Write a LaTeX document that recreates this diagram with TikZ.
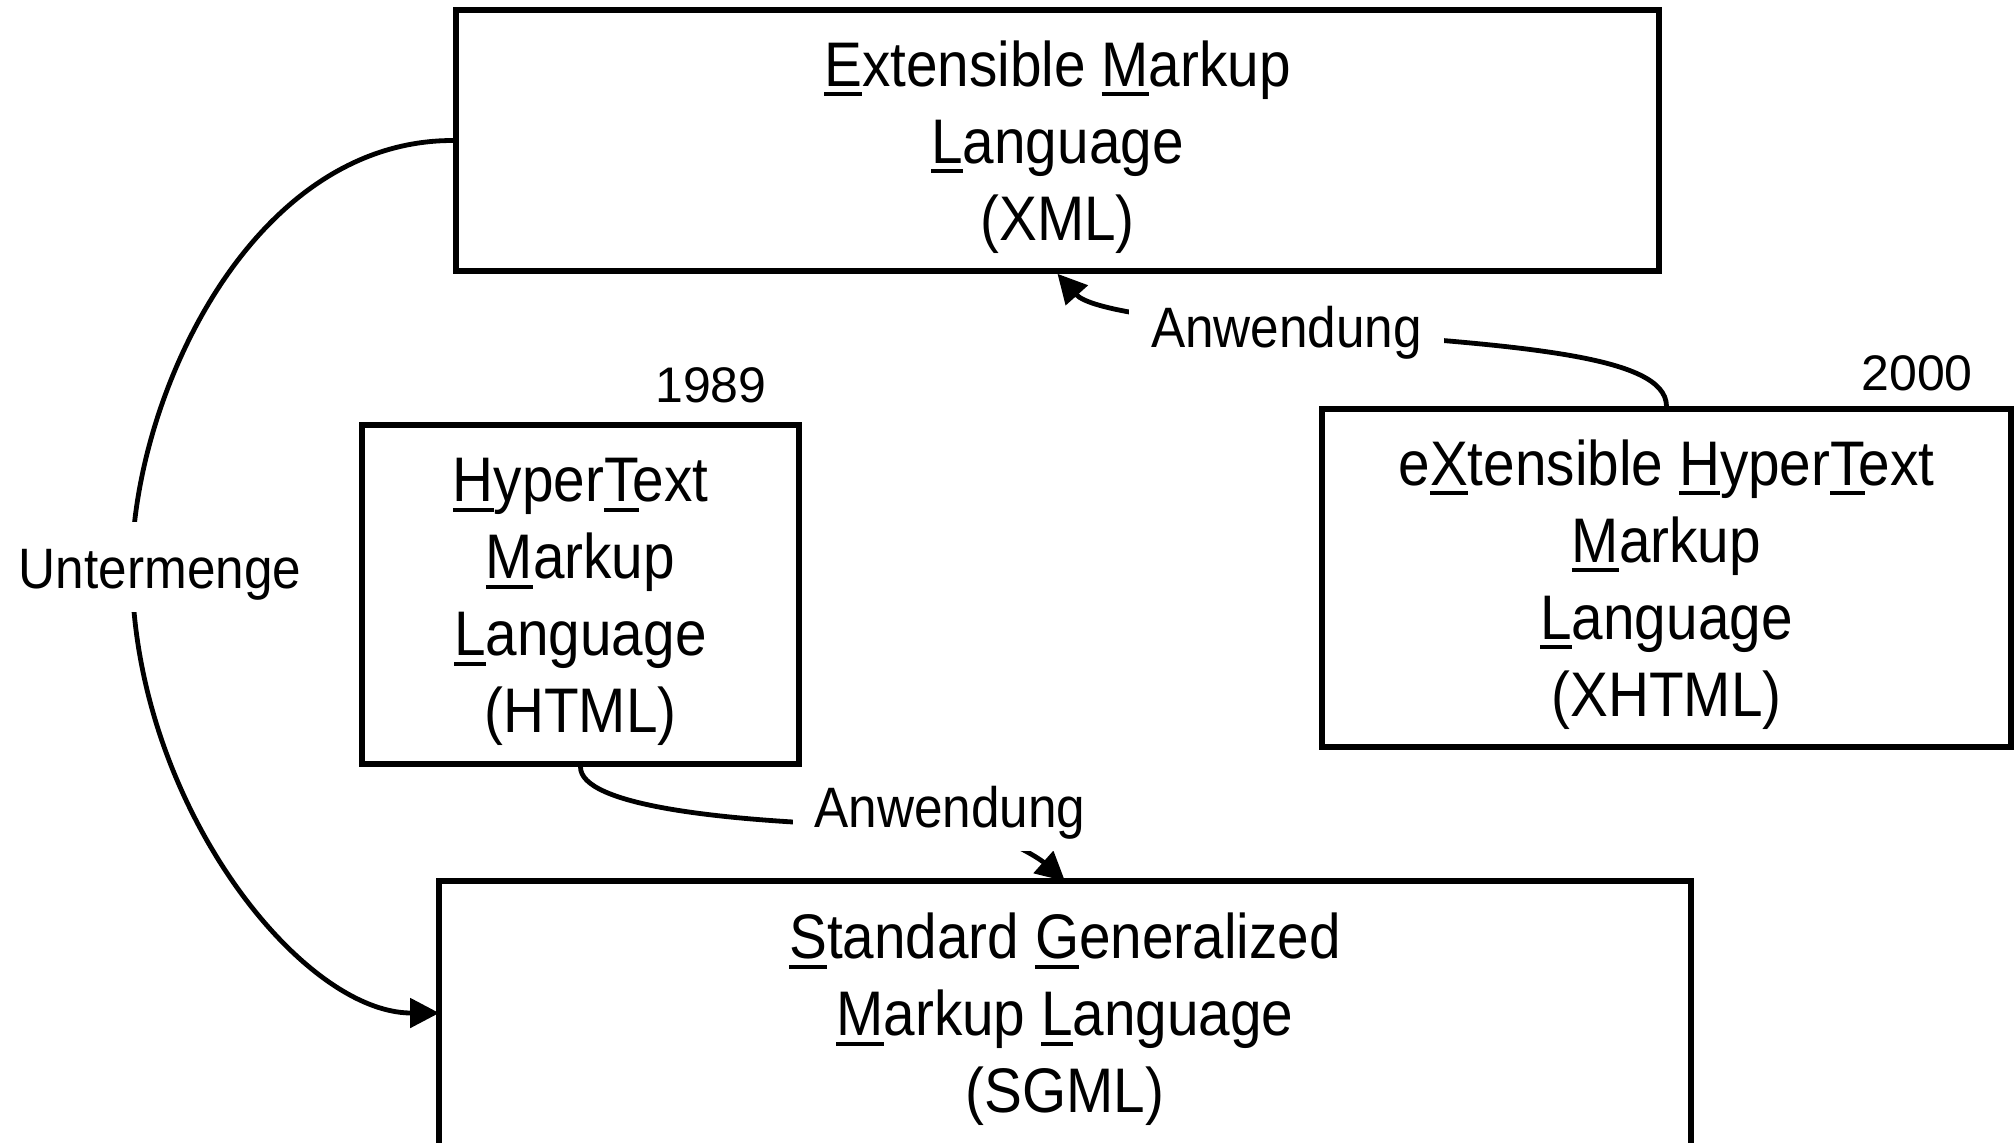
\documentclass[tikz,border=0pt]{standalone}
\usepackage{fontspec}
\setmainfont{Liberation Sans}
\newfontfamily\cond[FakeStretch=0.9]{Liberation Sans}
\usetikzlibrary{arrows.meta,backgrounds}
\newcommand\ulc[1]{\setbox0\hbox{#1}\rlap{\rule[-5pt]{\wd0}{2pt}}#1}
\newcommand\bs{\rule[-7.5pt]{0pt}{37.55pt}}
\begin{document}
\begin{tikzpicture}[x=0.5pt,y=-0.5pt,
  box/.style={draw,line width=2.8pt,inner sep=0pt,align=center,font=\cond\fontsize{31.5pt}{38.5pt}\selectfont},
  lbl/.style={fill=white,inner xsep=11pt,inner ysep=0pt,font=\cond\fontsize{28.5pt}{32pt}\selectfont},
  yr/.style={font=\fontsize{25pt}{30pt}\selectfont,inner sep=0pt},
  conn/.style={line width=2.4pt},
  arr/.style={conn,-{Triangle[length=14.5pt,width=14.5pt]}}]
\useasboundingbox (0,0) rectangle (2016,1142);
% boxes
\node[box,minimum width=601.5pt,minimum height=130.5pt] (xml) at (1057.5,140.5)
  {\bs\ulc{E}xtensible \ulc{M}arkup\\\ulc{L}anguage\\(XML)\bs};
\node[box,minimum width=218.5pt,minimum height=169.5pt] (html) at (580.5,594.5)
  {\bs\ulc{H}yper\ulc{T}ext\\\ulc{M}arkup\\\ulc{L}anguage\\(HTML)\bs};
\node[box,minimum width=344.5pt,minimum height=169pt] (xhtml) at (1666.5,578)
  {\bs e\ulc{X}tensible \ulc{H}yper\ulc{T}ext\\\ulc{M}arkup\\\ulc{L}anguage\\(XHTML)\bs};
\node[box,draw=none,minimum width=623pt,minimum height=129pt] (sgml) at (1065,1013)
  {\bs\ulc{S}tandard \ulc{G}eneralized\\\ulc{M}arkup \ulc{L}anguage\\(SGML)\bs};
\draw[line width=2.8pt] (sgml.south west) |- (sgml.north east) -- (sgml.south east);
% years
\node[yr,anchor=base] (y1989) at (711,402) {1989};
\node[yr,anchor=base] (y2000) at (1917,390) {2000};
% labels
\node[lbl,anchor=base,inner xsep=4pt,text height=33pt,text depth=12pt] (unter) at (160,588) {Untermenge};
\node[lbl,text height=21pt,text depth=3pt,inner ysep=2pt] (anwA) at (1286.5,329) {Anwendung};
\node[lbl,anchor=base,text height=21pt,text depth=12pt] (anwB) at (950,827) {Anwendung};
\coordinate (ubend) at (132,567);
% connectors
\begin{scope}[on background layer]
\draw[arr] (xml.west) .. controls (250,140) and (132,400) .. (ubend)
  .. controls (132,800) and (300,1013) .. (sgml.west);
\draw[arr] (xhtml.north) .. controls (1666,355) and (1520,345) .. (anwA.center)
  .. controls (1180,322) and (1090,310) .. (xml.south);
\draw[arr] (html.south) .. controls (580,805) and (720,825) .. (anwB.base)
  .. controls (1000,832) and (1040,859) .. (sgml.north);
\end{scope}
\end{tikzpicture}
\end{document}
